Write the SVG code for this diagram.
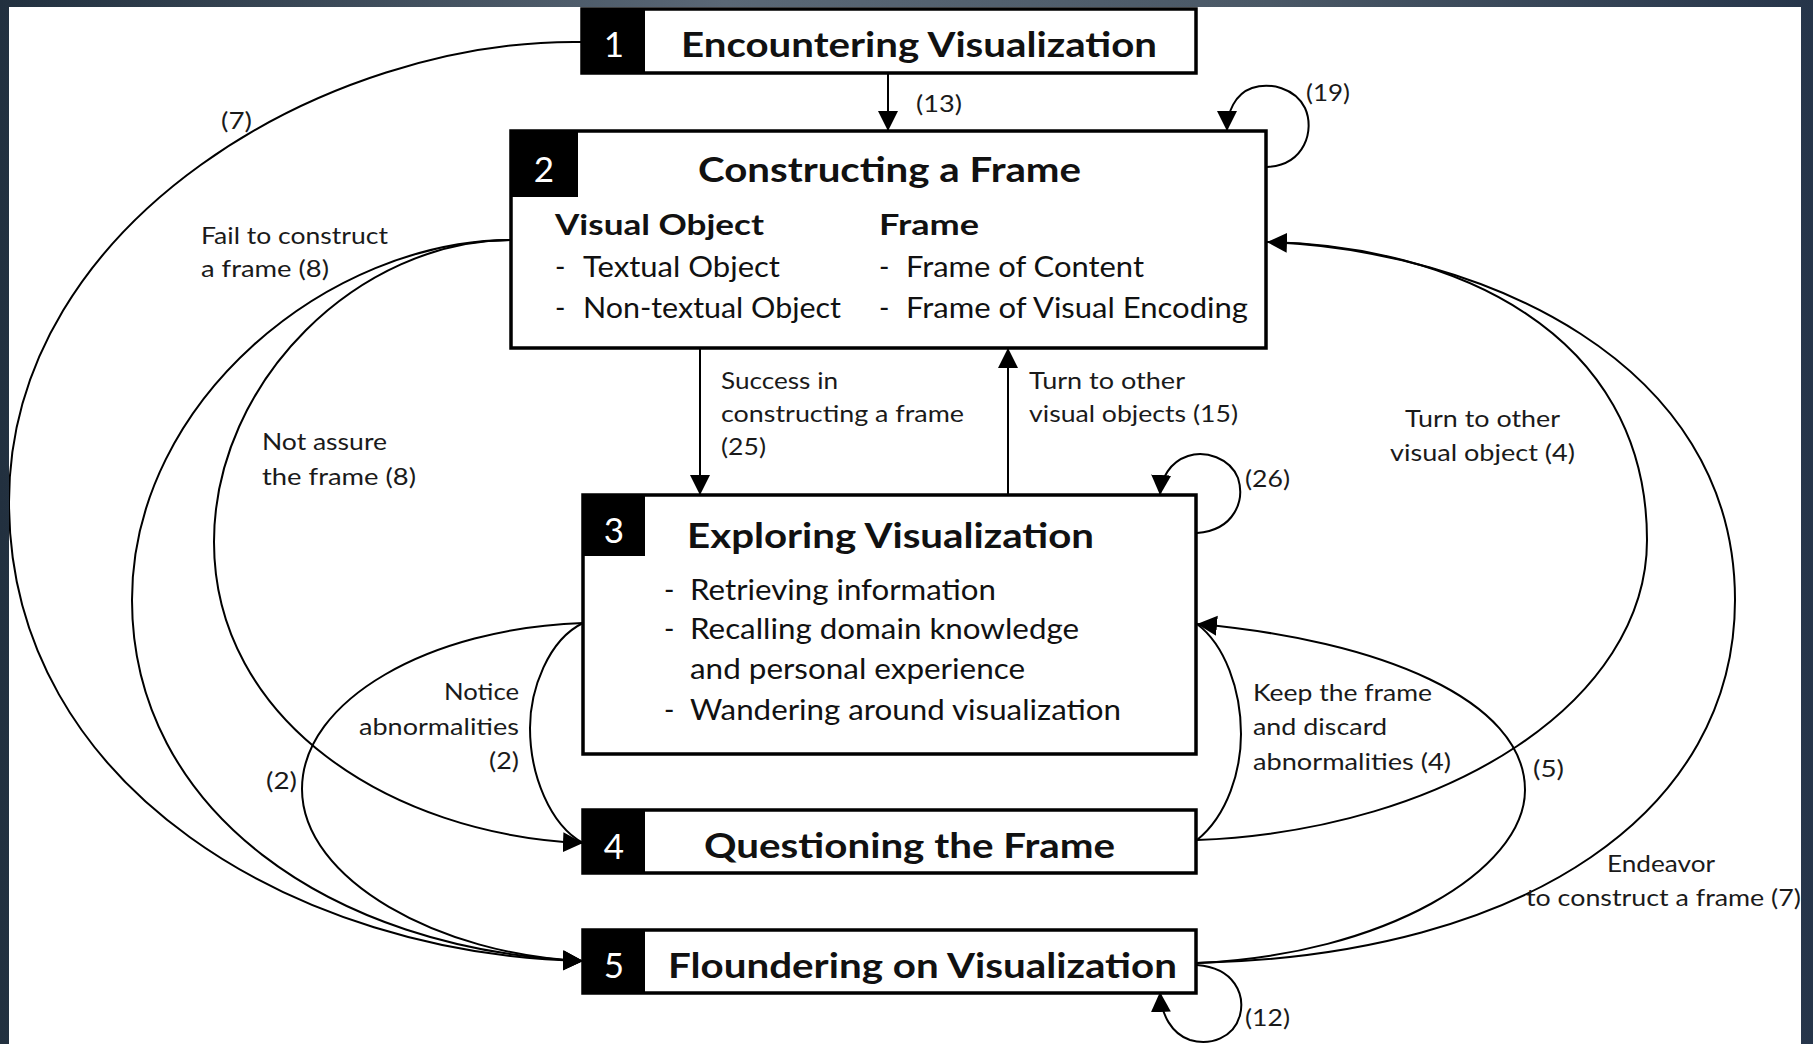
<svg xmlns="http://www.w3.org/2000/svg" width="1813" height="1044" viewBox="0 0 1813 1044">
<defs>
<linearGradient id="bg" x1="0" y1="0" x2="1" y2="0">
<stop offset="0" stop-color="#22303f"/>
<stop offset="0.4" stop-color="#5a6876"/>
<stop offset="0.7" stop-color="#4a5866"/>
<stop offset="1" stop-color="#26354a"/>
</linearGradient>
<marker id="ah" markerUnits="userSpaceOnUse" markerWidth="21" markerHeight="21" refX="20" refY="10" orient="auto">
<path d="M0,0 L20,10 L0,20 Z" fill="#000"/>
</marker>
<style>
text{font-family:Lato,"Liberation Sans",Arial,sans-serif;fill:#111}
.box{fill:#fff;stroke:#000;stroke-width:3.5}
.numbox{fill:#000}
.num{fill:#fff;font-size:35px;text-anchor:middle}
.title{font-size:34px;font-weight:bold}
.sub{font-size:29px;font-weight:bold}
.body{font-size:28px}
.lbl{font-size:24px;fill:#1a1a1a}
.conn path{fill:none;stroke:#000;stroke-width:2}
.arr{marker-end:url(#ah)}
</style>
</defs>
<rect x="0" y="0" width="1813" height="1044" fill="#fff"/>

<g id="connectors" class="conn">
<path class="arr" d="M888,73 L888,131"/>
<path class="arr" d="M1267,167 C1305,165 1315,130 1305,108 C1295,88 1270,82 1252,88 C1235,94 1227,112 1227,131"/>
<path class="arr" d="M582,42 C330,38 9,220 9,502 C9,790 300,955 583,961"/>
<path class="arr" d="M511,240 C330,240 132,400 132,600 C132,810 330,950 583,961"/>
<path class="arr" d="M511,240 C360,240 214,380 214,542 C214,720 390,835 583,843"/>
<path class="arr" d="M583,623 C430,628 302,700 302,789 C302,880 440,955 583,961"/>
<path d="M583,623 C548,640 530,690 530,728 C530,775 550,825 583,843"/>
<path class="arr" d="M700,348 L700,495"/>
<path class="arr" d="M1008,495 L1008,348"/>
<path class="arr" d="M1197,533 C1235,530 1245,500 1238,478 C1230,458 1205,450 1188,456 C1170,462 1161,478 1160,495"/>
<path d="M1197,840 C1228,815 1241,770 1241,734 C1241,690 1225,645 1197,624"/>
<path class="arr" d="M1197,963 C1385,955 1525,870 1525,790 C1525,700 1380,640 1197,624"/>
<path d="M1197,840 C1450,830 1647,700 1647,540 C1647,330 1450,245 1267,242"/>
<path class="arr" d="M1197,963 C1530,955 1735,810 1735,600 C1735,360 1480,250 1267,242"/>
<path class="arr" d="M1197,965 C1235,968 1245,995 1240,1015 C1234,1038 1210,1046 1190,1040 C1172,1034 1161,1015 1160,992"/>
</g>

<g id="edge-labels">
<text class="lbl" x="916" y="112" textLength="46" lengthAdjust="spacingAndGlyphs">(13)</text>
<text class="lbl" x="1306" y="101" textLength="44" lengthAdjust="spacingAndGlyphs">(19)</text>
<text class="lbl" x="221" y="129" textLength="31" lengthAdjust="spacingAndGlyphs">(7)</text>
<text class="lbl" x="201" y="244" textLength="187" lengthAdjust="spacingAndGlyphs">Fail to construct</text>
<text class="lbl" x="201" y="277" textLength="128" lengthAdjust="spacingAndGlyphs">a frame (8)</text>
<text class="lbl" x="262" y="450" textLength="125" lengthAdjust="spacingAndGlyphs">Not assure</text>
<text class="lbl" x="262" y="485" textLength="154" lengthAdjust="spacingAndGlyphs">the frame (8)</text>
<text class="lbl" x="444" y="700" textLength="75" lengthAdjust="spacingAndGlyphs">Notice</text>
<text class="lbl" x="359" y="735" textLength="160" lengthAdjust="spacingAndGlyphs">abnormalities</text>
<text class="lbl" x="489" y="769" textLength="30" lengthAdjust="spacingAndGlyphs">(2)</text>
<text class="lbl" x="266" y="789" textLength="31" lengthAdjust="spacingAndGlyphs">(2)</text>
<text class="lbl" x="721" y="389" textLength="117" lengthAdjust="spacingAndGlyphs">Success in</text>
<text class="lbl" x="721" y="422" textLength="243" lengthAdjust="spacingAndGlyphs">constructing a frame</text>
<text class="lbl" x="721" y="455" textLength="45" lengthAdjust="spacingAndGlyphs">(25)</text>
<text class="lbl" x="1029" y="389" textLength="156" lengthAdjust="spacingAndGlyphs">Turn to other</text>
<text class="lbl" x="1029" y="422" textLength="209" lengthAdjust="spacingAndGlyphs">visual objects (15)</text>
<text class="lbl" x="1245" y="487" textLength="45" lengthAdjust="spacingAndGlyphs">(26)</text>
<text class="lbl" x="1405" y="427" textLength="155" lengthAdjust="spacingAndGlyphs">Turn to other</text>
<text class="lbl" x="1390" y="461" textLength="185" lengthAdjust="spacingAndGlyphs">visual object (4)</text>
<text class="lbl" x="1253" y="701" textLength="179" lengthAdjust="spacingAndGlyphs">Keep the frame</text>
<text class="lbl" x="1253" y="735" textLength="134" lengthAdjust="spacingAndGlyphs">and discard</text>
<text class="lbl" x="1253" y="770" textLength="198" lengthAdjust="spacingAndGlyphs">abnormalities (4)</text>
<text class="lbl" x="1533" y="777" textLength="31" lengthAdjust="spacingAndGlyphs">(5)</text>
<text class="lbl" x="1607" y="872" textLength="108" lengthAdjust="spacingAndGlyphs">Endeavor</text>
<text class="lbl" x="1526" y="906" textLength="275" lengthAdjust="spacingAndGlyphs">to construct a frame (7)</text>
<text class="lbl" x="1245" y="1026" textLength="45" lengthAdjust="spacingAndGlyphs">(12)</text>
</g>

<g id="node1">
<rect class="box" x="582" y="9" width="614" height="64"/>
<rect class="numbox" x="582" y="9" width="63" height="64"/>
<text class="num" x="614" y="57">1</text>
<text class="title" x="681" y="57" textLength="476" lengthAdjust="spacingAndGlyphs">Encountering Visualization</text>
</g>

<g id="node2">
<rect class="box" x="511" y="131" width="755" height="217"/>
<rect class="numbox" x="511" y="131" width="67" height="66"/>
<text class="num" x="544" y="182">2</text>
<text class="title" x="698" y="182" textLength="383" lengthAdjust="spacingAndGlyphs">Constructing a Frame</text>
<text class="sub" x="555" y="235" textLength="209" lengthAdjust="spacingAndGlyphs">Visual Object</text>
<text class="sub" x="879" y="235" textLength="100" lengthAdjust="spacingAndGlyphs">Frame</text>
<text class="body" x="555" y="277">-</text>
<text class="body" x="583" y="277" textLength="197" lengthAdjust="spacingAndGlyphs">Textual Object</text>
<text class="body" x="555" y="318">-</text>
<text class="body" x="583" y="318" textLength="258" lengthAdjust="spacingAndGlyphs">Non-textual Object</text>
<text class="body" x="879" y="277">-</text>
<text class="body" x="906" y="277" textLength="238" lengthAdjust="spacingAndGlyphs">Frame of Content</text>
<text class="body" x="879" y="318">-</text>
<text class="body" x="906" y="318" textLength="342" lengthAdjust="spacingAndGlyphs">Frame of Visual Encoding</text>
</g>

<g id="node3">
<rect class="box" x="583" y="495" width="613" height="259"/>
<rect class="numbox" x="583" y="495" width="62" height="61"/>
<text class="num" x="614" y="543">3</text>
<text class="title" x="687" y="548" textLength="407" lengthAdjust="spacingAndGlyphs">Exploring Visualization</text>
<text class="body" x="664" y="600">-</text>
<text class="body" x="690" y="600" textLength="306" lengthAdjust="spacingAndGlyphs">Retrieving information</text>
<text class="body" x="664" y="639">-</text>
<text class="body" x="690" y="639" textLength="389" lengthAdjust="spacingAndGlyphs">Recalling domain knowledge</text>
<text class="body" x="690" y="679" textLength="335" lengthAdjust="spacingAndGlyphs">and personal experience</text>
<text class="body" x="664" y="720">-</text>
<text class="body" x="690" y="720" textLength="431" lengthAdjust="spacingAndGlyphs">Wandering around visualization</text>
</g>

<g id="node4">
<rect class="box" x="583" y="810" width="613" height="63"/>
<rect class="numbox" x="583" y="810" width="62" height="63"/>
<text class="num" x="614" y="859">4</text>
<text class="title" x="704" y="858" textLength="411" lengthAdjust="spacingAndGlyphs">Questioning the Frame</text>
</g>

<g id="node5">
<rect class="box" x="583" y="930" width="613" height="63"/>
<rect class="numbox" x="583" y="930" width="62" height="63"/>
<text class="num" x="614" y="978">5</text>
<text class="title" x="668" y="978" textLength="509" lengthAdjust="spacingAndGlyphs">Floundering on Visualization</text>
</g>

<path fill="url(#bg)" fill-rule="evenodd" d="M0,0H1813V1044H0Z M9,7H1801V1044H9Z"/>
</svg>
